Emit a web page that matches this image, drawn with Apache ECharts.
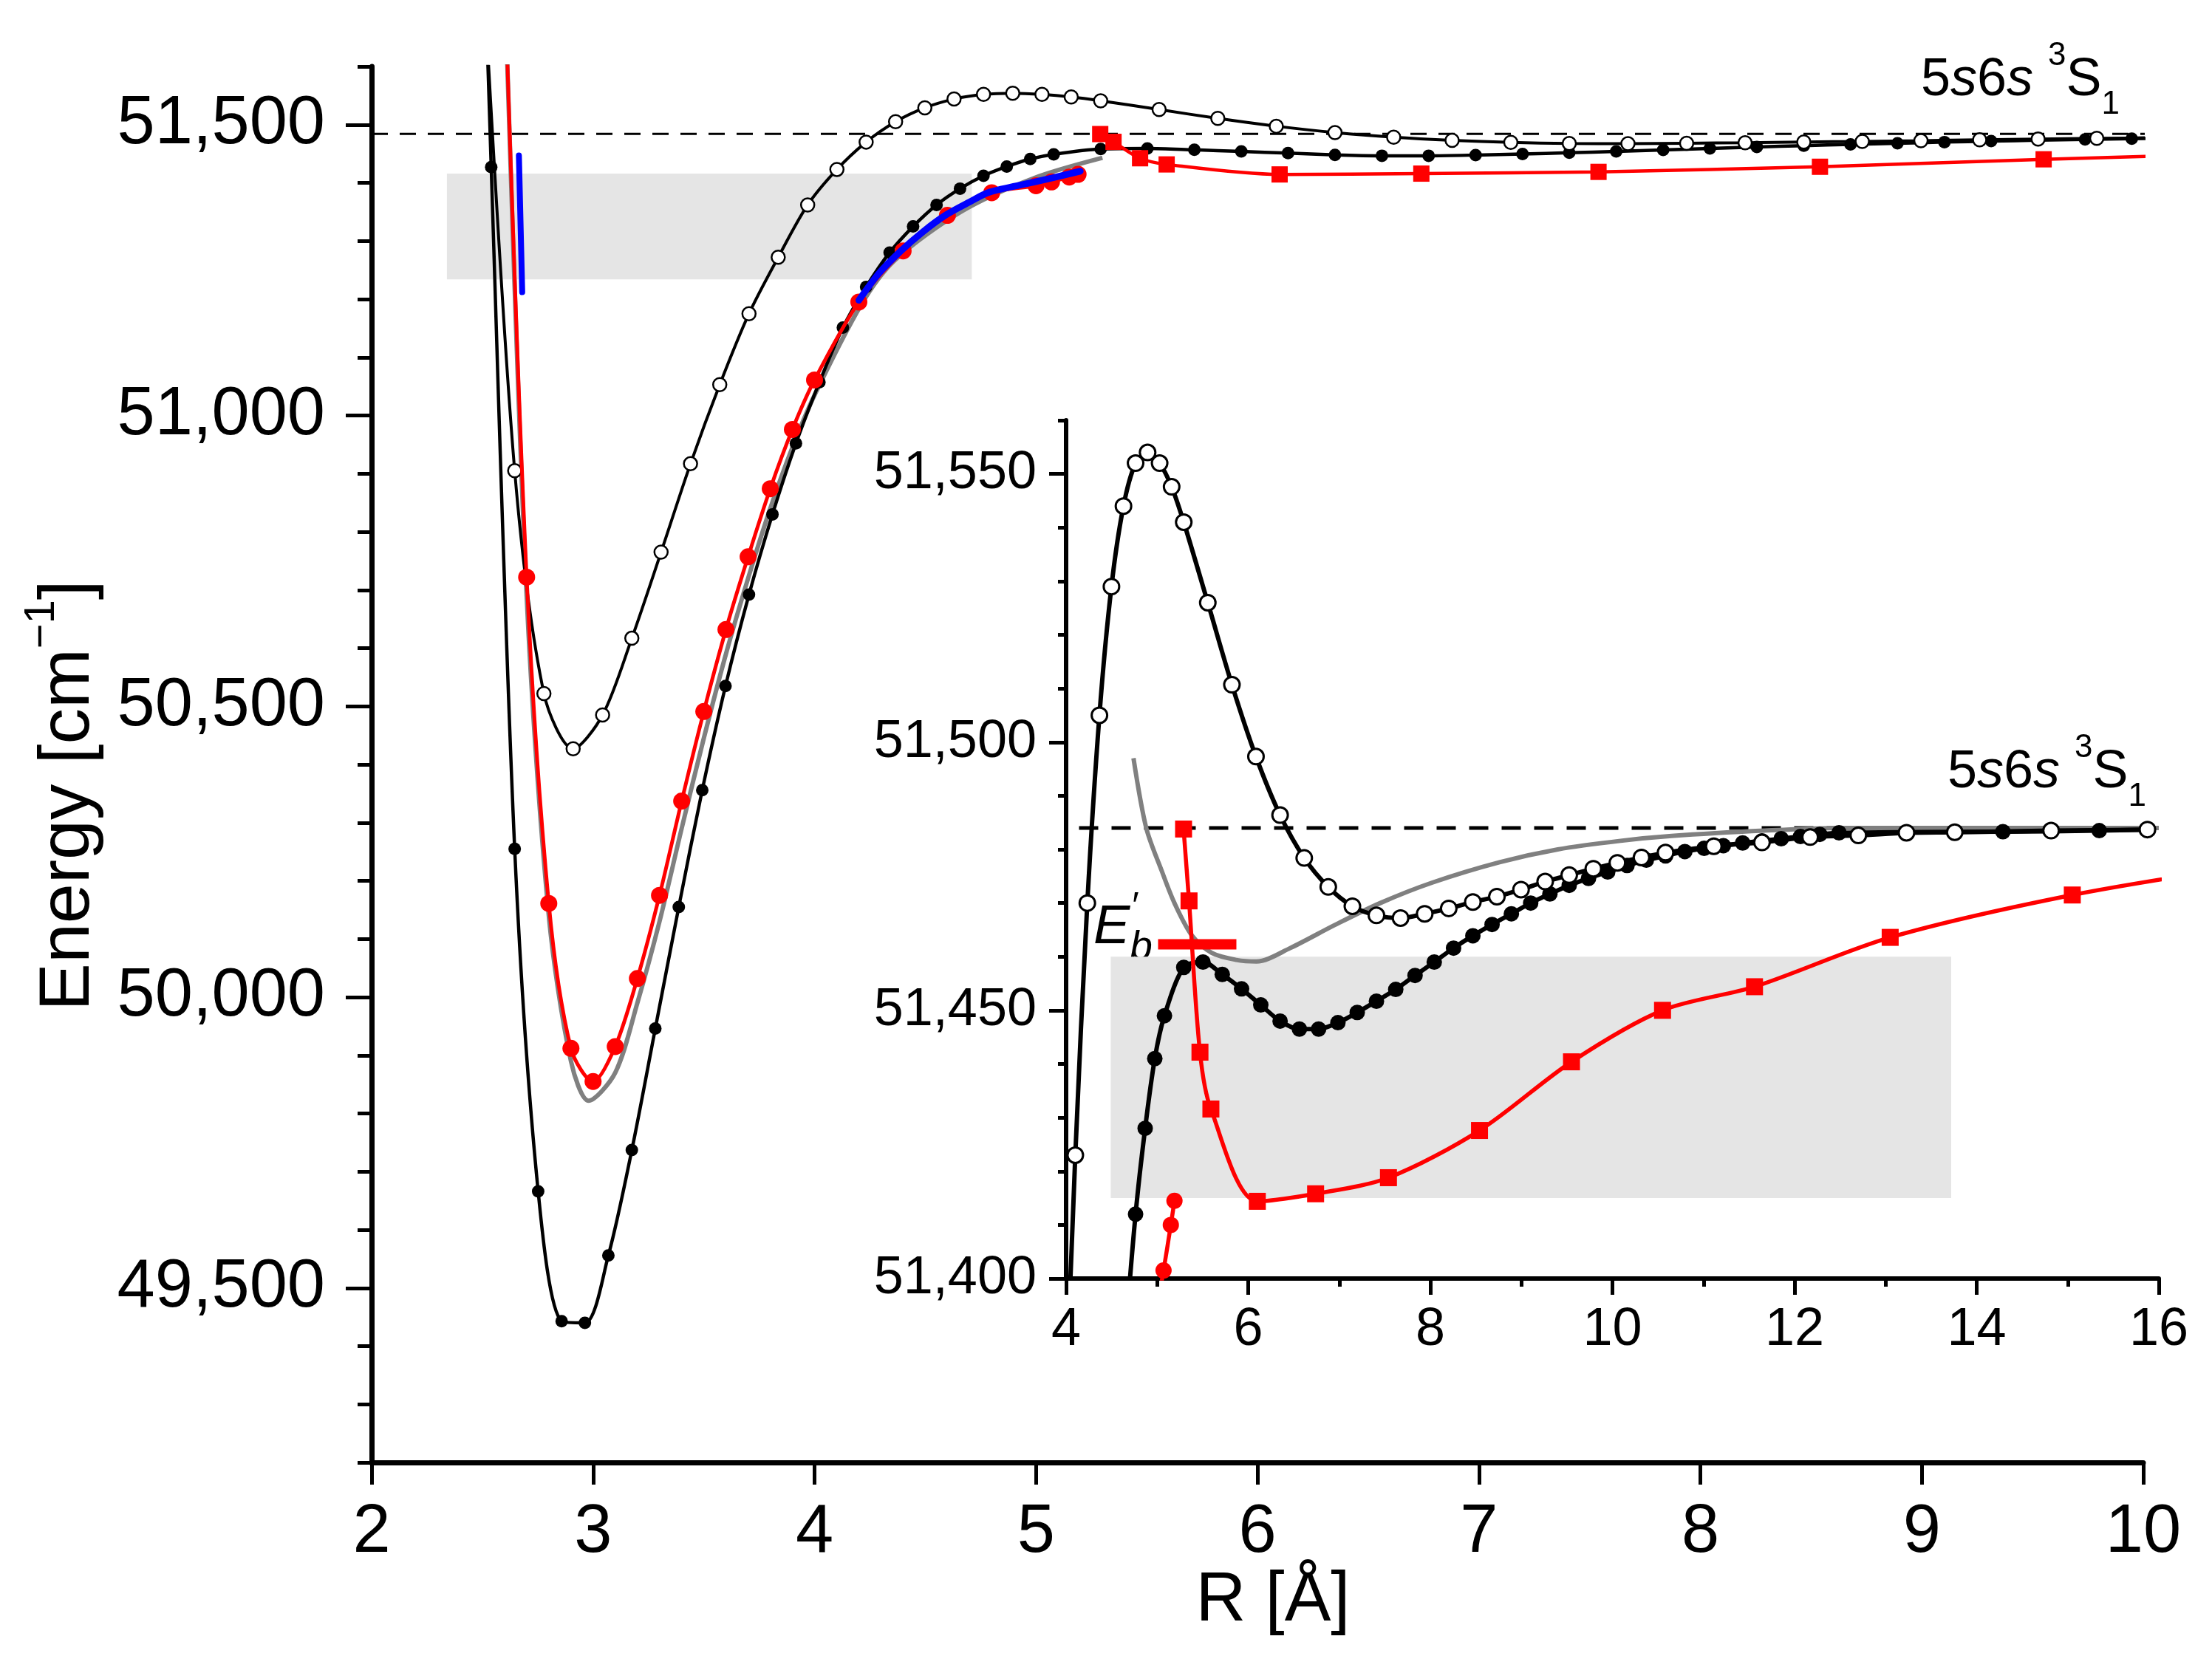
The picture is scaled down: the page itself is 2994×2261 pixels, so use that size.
<!DOCTYPE html>
<html>
<head>
<meta charset="utf-8">
<script src="https://cdn.jsdelivr.net/npm/echarts@6/dist/echarts.min.js"></script>
<style>
  html, body { margin: 0; padding: 0; background: #fff; }
  #chart { width: 2994px; height: 2261px; }
</style>
</head>
<body>
<div id="chart"></div>
<script>
// R in Angstrom, energies in cm-1

// black curve, filled circles
var blackR = [2.434, 2.540, 2.646, 2.752, 2.858, 2.963, 3.069, 3.175, 3.281, 3.387, 3.493, 3.598, 3.704, 3.810, 3.916,
  4.022, 4.128, 4.233, 4.339, 4.445, 4.551, 4.657, 4.763, 4.868, 4.974, 5.080, 5.292, 5.503, 5.715, 5.927, 6.138,
  6.350, 6.562, 6.773, 6.985, 7.197, 7.408, 7.620, 7.832, 8.043, 8.255, 8.467, 8.678, 8.890, 9.102, 9.313, 9.525,
  9.737, 9.948, 10.160, 10.372, 10.583, 10.795, 11.007, 11.218, 11.430, 11.642, 11.853, 12.065, 12.277, 12.488,
  14.288, 15.346, 15.875];
var blackE = [52700, 51427, 50255, 49666, 49443, 49440, 49556, 49737, 49946, 50155, 50356, 50535, 50692, 50830, 50952,
  51057, 51151, 51221, 51280, 51325, 51362, 51390, 51412, 51428, 51441, 51449, 51458, 51459, 51456.7, 51454, 51451,
  51448, 51446.5, 51446.5, 51447.7, 51449.6, 51451.7, 51453.9, 51456.5, 51459, 51461.6, 51463.9, 51466, 51468, 51470, 51471.7, 51473.3,
  51474.6, 51475.8, 51477, 51478, 51478.8, 51479.6, 51480.2, 51480.7, 51481.2, 51481.6, 51482, 51482.4, 51482.8, 51483.1,
  51483.3, 51483.5, 51483.7];

// black curve, open circles
var openR = [2.514, 2.646, 2.778, 2.910, 3.043, 3.175, 3.307, 3.440, 3.572, 3.704, 3.836, 3.969, 4.101, 4.233, 4.366,
  4.498, 4.630, 4.763, 4.895, 5.027, 5.159, 5.292, 5.556, 5.821, 6.085, 6.350, 6.615, 6.879, 7.144, 7.408, 7.673,
  7.938, 8.202, 8.467, 8.731, 8.996, 9.261, 9.525, 9.790, 10.054, 10.319, 10.583, 11.113, 11.642, 12.171, 12.700,
  13.229, 13.759, 14.817, 15.875];
var openE = [51700, 50905, 50522, 50427, 50485, 50617, 50765, 50917, 51053, 51175, 51272, 51362, 51423, 51470, 51505,
  51529, 51544, 51552, 51554, 51552, 51547.6, 51541, 51526, 51510.7, 51497.3, 51486.4, 51478.4, 51473, 51469.4, 51467.7, 51467.2,
  51468, 51469, 51470.2, 51471.2, 51472.5, 51474, 51475.2, 51476.4, 51477.5, 51478.5, 51479.4, 51480.6, 51481.3, 51482.3, 51482.6,
  51483.1, 51483.2, 51483.5, 51483.7];

// red curve, filled circles
var redDotR = [2.60, 2.70, 2.80, 2.90, 3.00, 3.10, 3.20, 3.30, 3.40, 3.50, 3.60, 3.70, 3.80, 3.90, 4.00,
  4.20, 4.40, 4.60, 4.80, 5.00, 5.07, 5.15, 5.19];
var redDotE = [51762, 50722, 50161, 49912, 49855, 49915, 50032, 50175, 50337, 50491, 50632, 50757, 50874, 50976, 51061,
  51195, 51283, 51344, 51383, 51395, 51401.5, 51410, 51414.5];

// red curve, squares
var redSqR = [5.29, 5.35, 5.47, 5.59, 6.10, 6.74, 7.54, 8.54, 9.55, 10.55, 11.56, 13.05, 15.05, 17.00];
var redSqE = [51483.8, 51470.4, 51442.2, 51431.6, 51414.4, 51415.8, 51418.8, 51427.6, 51440.4, 51450, 51454.4, 51463.6, 51471.5, 51477];

// grey curve, main panel
var greyR = [2.60, 2.70, 2.80, 2.90, 2.98, 3.10, 3.20, 3.30, 3.40, 3.50, 3.60, 3.70, 3.80, 3.90, 4.00,
  4.21, 4.36, 4.66, 4.99, 5.30];
var greyE = [51760, 50690, 50140, 49890, 49822, 49870, 49990, 50130, 50290, 50445, 50590, 50720, 50840, 50945, 51035,
  51190, 51266, 51350, 51408, 51443];

// grey curve, inset
var greyInR = [4.74, 4.88, 5.05, 5.19, 5.38, 5.60, 5.87, 6.09, 6.46, 6.95, 7.45, 8.02, 8.76, 9.40, 10.09, 10.65, 11.67, 12.5, 16];
var greyInE = [51497, 51484, 51476, 51470, 51464, 51460.7, 51459.4, 51459.1, 51461.6, 51465.9, 51470, 51473.8, 51477.6, 51480,
  51481.6, 51482.5, 51483.5, 51484, 51484];

// blue curves
var blueR = [4.20, 4.29, 4.39, 4.49, 4.59, 4.70, 4.79, 4.99, 5.20];
var blueE = [51198, 51244, 51283, 51316, 51344, 51367, 51384, 51401, 51420];
var blueBarR = [2.665, 2.680];
var blueBarE = [51447, 51212];

// asymptote 5s6s 3S1
var asymR = [2, 16];
var asymE = [51484, 51484];

// E'_b marker
var ebR = [5.01, 5.87];
var ebE = [51462.3, 51462.3];

// shaded regions
var mainBoxR = [2.34, 4.71];
var mainBoxE = [51234, 51416];
var insetBoxR = [4.49, 13.72];
var insetBoxE = [51415, 51460];

// tick labels
var mainYLabels = [49500, 50000, 50500, 51000, 51500];
var insetYLabels = [51400, 51450, 51500, 51550];

var FONT = '"Liberation Sans", Arial, sans-serif';

function pairs(xs, ys) {
  return xs.map(function (x, i) { return [x, ys[i]]; });
}
function comma(v) {
  return String(v).replace(/\B(?=(\d{3})+(?!\d))/g, ',');
}

function curve(xs, ys, g, opt) {
  return {
    type: 'line',
    xAxisIndex: g,
    yAxisIndex: g * 2,
    data: pairs(xs, ys),
    smooth: opt.smooth == null ? 0.3 : opt.smooth,
    clip: true,
    z: opt.z || 5,
    showAllSymbol: true,
    symbol: opt.symbol || 'none',
    symbolSize: opt.size || 0,
    lineStyle: { color: opt.color, width: opt.width, type: opt.dash || 'solid', cap: opt.cap || 'butt' },
    itemStyle: opt.item || { color: opt.color },
    markArea: opt.markArea,
    emphasis: { disabled: true },
    silent: true
  };
}

function box(xs, ys) {
  return {
    silent: true,
    itemStyle: { color: '#e5e5e5' },
    data: [[{ coord: [xs[0], ys[0]] }, { coord: [xs[1], ys[1]] }]]
  };
}

var chart = echarts.init(document.getElementById('chart'));

var tickStyle = { color: '#000', width: 5 };

var option = {
  animation: false,
  backgroundColor: '#fff',
  grid: [
    { left: 503, top: 90, width: 2398, height: 1890, containLabel: false, outerBoundsMode: 'none' },
    { left: 1443, top: 569, width: 1479, height: 1162, containLabel: false, outerBoundsMode: 'none' }
  ],
  xAxis: [
    {
      gridIndex: 0, type: 'value', position: 'bottom', min: 2, max: 10, interval: 1,
      axisLine: { lineStyle: { color: '#000', width: 7 } },
      axisTick: { length: 30, lineStyle: tickStyle },
      axisLabel: { fontSize: 92, margin: 50, color: '#000', fontFamily: FONT },
      splitLine: { show: false }
    },
    {
      gridIndex: 1, type: 'value', position: 'bottom', min: 4, max: 16, interval: 2,
      axisLine: { lineStyle: { color: '#000', width: 6 } },
      axisTick: { length: 22, lineStyle: tickStyle },
      minorTick: { show: true, splitNumber: 2, length: 11, lineStyle: tickStyle },
      axisLabel: { fontSize: 72, margin: 34, color: '#000', fontFamily: FONT },
      splitLine: { show: false }
    }
  ],
  yAxis: [
    {
      gridIndex: 0, type: 'value', position: 'left', min: 49200, max: 51600, interval: 100,
      axisLine: { show: false },
      axisTick: { length: 19, lineStyle: tickStyle },
      axisLabel: { show: false },
      splitLine: { show: false }
    },
    {
      gridIndex: 0, type: 'value', position: 'left', min: 49200, max: 51600,
      axisLine: { show: true, lineStyle: { color: '#000', width: 7 } },
      axisTick: { length: 35, customValues: mainYLabels, lineStyle: tickStyle },
      axisLabel: { customValues: mainYLabels, formatter: comma, fontSize: 92, margin: 63, color: '#000', fontFamily: FONT },
      splitLine: { show: false }
    },
    {
      gridIndex: 1, type: 'value', position: 'left', min: 51400, max: 51560, interval: 10,
      axisLine: { show: false },
      axisTick: { length: 11, lineStyle: tickStyle },
      axisLabel: { show: false },
      splitLine: { show: false }
    },
    {
      gridIndex: 1, type: 'value', position: 'left', min: 51400, max: 51560,
      axisLine: { show: true, lineStyle: { color: '#000', width: 6 } },
      axisTick: { length: 23, customValues: insetYLabels, lineStyle: tickStyle },
      axisLabel: { customValues: insetYLabels, formatter: comma, fontSize: 72, margin: 40, color: '#000', fontFamily: FONT },
      splitLine: { show: false }
    }
  ],
  series: [
    // main panel
    curve(asymR, asymE, 0, { color: '#000', width: 3, dash: [22, 16], smooth: false, z: 3, markArea: box(mainBoxR, mainBoxE) }),
    curve(greyR, greyE, 0, { color: '#808080', width: 6, z: 4 }),
    curve(blackR, blackE, 0, { color: '#000', width: 4.5, symbol: 'circle', size: 17, z: 6 }),
    curve(openR, openE, 0, { color: '#000', width: 4, symbol: 'circle', size: 18, z: 7,
      item: { color: '#fff', borderColor: '#000', borderWidth: 2.5 } }),
    curve(redSqR, redSqE, 0, { color: '#ff0000', width: 4.5, symbol: 'rect', size: 22, z: 8 }),
    curve(redDotR, redDotE, 0, { color: '#ff0000', width: 5, symbol: 'circle', size: 23, z: 8 }),
    curve(blueR, blueE, 0, { color: '#0000ff', width: 9, z: 9, cap: 'round' }),
    curve(blueBarR, blueBarE, 0, { color: '#0000ff', width: 8, z: 9, smooth: false, cap: 'round' }),
    // inset
    curve(asymR, asymE, 1, { color: '#000', width: 5, dash: [26, 18], smooth: false, z: 3, markArea: box(insetBoxR, insetBoxE) }),
    curve(greyInR, greyInE, 1, { color: '#808080', width: 6, z: 4 }),
    curve(blackR, blackE, 1, { color: '#000', width: 6, symbol: 'circle', size: 21, z: 6 }),
    curve(openR, openE, 1, { color: '#000', width: 6, symbol: 'circle', size: 21, z: 7,
      item: { color: '#fff', borderColor: '#000', borderWidth: 3 } }),
    curve(redSqR, redSqE, 1, { color: '#ff0000', width: 5.5, symbol: 'rect', size: 23, z: 8 }),
    curve(redDotR, redDotE, 1, { color: '#ff0000', width: 5.5, symbol: 'circle', size: 22, z: 8 }),
    curve(ebR, ebE, 1, { color: '#ff0000', width: 14, smooth: false, z: 9 })
  ],
  graphic: [
    {
      type: 'text', x: 93, y: 1077, rotation: Math.PI / 2, silent: true,
      style: {
        text: '{n|Energy [cm}{s|\u22121}{n|]}', align: 'center', verticalAlign: 'middle', fill: '#000',
        rich: {
          n: { fontSize: 97, fontFamily: FONT, lineHeight: 130, verticalAlign: 'middle' },
          s: { fontSize: 58, fontFamily: FONT, lineHeight: 58, verticalAlign: 'top' }
        }
      }
    },
    {
      type: 'text', x: 1723, y: 2168, silent: true,
      style: { text: 'R [\u00c5]', font: '94px ' + FONT, align: 'center', verticalAlign: 'middle', fill: '#000' }
    },
    {
      type: 'text', x: 2600, y: 54, silent: true,
      style: {
        text: '{n|5}{i|s}{n|6}{i|s }{p|3}{n|S}{b|1}', align: 'left', verticalAlign: 'top', fill: '#000',
        rich: {
          n: { fontSize: 72, fontFamily: FONT, lineHeight: 110, verticalAlign: 'middle' },
          i: { fontSize: 72, fontFamily: FONT, fontStyle: 'italic', lineHeight: 110, verticalAlign: 'middle' },
          p: { fontSize: 44, fontFamily: FONT, lineHeight: 44, verticalAlign: 'top' },
          b: { fontSize: 44, fontFamily: FONT, lineHeight: 44, verticalAlign: 'bottom' }
        }
      }
    },
    {
      type: 'text', x: 2636, y: 991, silent: true,
      style: {
        text: '{n|5}{i|s}{n|6}{i|s }{p|3}{n|S}{b|1}', align: 'left', verticalAlign: 'top', fill: '#000',
        rich: {
          n: { fontSize: 72, fontFamily: FONT, lineHeight: 110, verticalAlign: 'middle' },
          i: { fontSize: 72, fontFamily: FONT, fontStyle: 'italic', lineHeight: 110, verticalAlign: 'middle' },
          p: { fontSize: 44, fontFamily: FONT, lineHeight: 44, verticalAlign: 'top' },
          b: { fontSize: 44, fontFamily: FONT, lineHeight: 44, verticalAlign: 'bottom' }
        }
      }
    },
    {
      type: 'text', x: 1480, y: 1201, silent: true,
      style: {
        text: '{e|E}{b|b}', align: 'left', verticalAlign: 'top', fill: '#000',
        rich: {
          e: { fontSize: 74, fontFamily: FONT, fontStyle: 'italic', lineHeight: 110, verticalAlign: 'middle' },
          b: { fontSize: 55, fontFamily: FONT, fontStyle: 'italic', lineHeight: 55, verticalAlign: 'bottom' }
        }
      }
    },
    {
      type: 'text', x: 1530, y: 1204, silent: true,
      style: { text: '\u2032', font: 'italic 50px ' + FONT, align: 'left', verticalAlign: 'top', fill: '#000' }
    }
  ]
};

chart.setOption(option);
</script>
</body>
</html>
